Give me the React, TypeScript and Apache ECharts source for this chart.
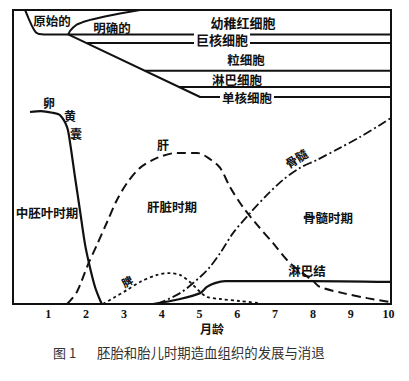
import React, { useEffect, useRef } from 'react';
import * as echarts from 'echarts';

// x: months (0..10), y: relative level (0..100)
const monthLabels = ['1', '2', '3', '4', '5', '6', '7', '8', '9', '10'];

const yolkX = [0.45, 0.74, 1.06, 1.24, 1.43, 1.51, 1.64, 1.77, 1.9, 2.01, 2.17, 2.3, 2.35];
const yolkY = [65.3, 65.6, 65.0, 64.3, 60.2, 54.8, 43.2, 32.0, 20.7, 13.9, 5.8, 1.4, 0];

const liverX = [1.43, 1.69, 1.98, 2.22, 2.49, 2.75, 3.02, 3.36, 3.81, 4.34, 4.87, 5.21, 5.48, 5.74, 6.08, 6.46, 6.88, 7.33, 7.94, 8.12, 8.73, 9.37, 9.97];
const liverY = [0, 4.1, 13.3, 20.1, 27.9, 35.4, 41.2, 46.3, 49.7, 51.4, 51.4, 49.3, 46.3, 39.8, 33.0, 26.9, 20.7, 13.9, 7.8, 5.8, 3.7, 2.0, 0.7];

const spleenX = [2.38, 2.65, 3.02, 3.36, 3.81, 4.15, 4.42, 4.68, 4.95, 5.13, 5.48, 6.01, 6.53];
const spleenY = [0, 2.0, 4.8, 7.5, 9.9, 10.5, 9.9, 7.5, 4.1, 2.4, 1.7, 1.0, 0.3];

const lymphX = [3.7, 4.42, 4.95, 5.13, 5.34, 5.61, 7.86, 10];
const lymphY = [0, 1.7, 3.7, 5.8, 7.1, 7.8, 7.8, 7.5];

const marrowX = [3.81, 4.42, 4.95, 5.21, 5.48, 5.82, 6.27, 6.72, 7.14, 7.59, 8.04, 8.65, 9.18, 9.71, 10];
const marrowY = [0, 3.7, 9.2, 12.6, 17.3, 24.1, 30.9, 37.1, 42.2, 46.3, 49.0, 53.1, 56.8, 60.9, 63.3];

// lineage diagram (top)
const primX = [0.32, 0.42, 0.5, 0.56, 0.61, 0.69, 0.82, 10];
const primY = [100, 96.9, 94.6, 93.2, 92.3, 91.8, 91.7, 91.7];
const defX = [1.46, 1.51, 1.59, 1.69, 1.85, 2.09, 2.43, 2.83, 3.36];
const defY = [91.7, 92.9, 94.05, 95.07, 95.9, 96.8, 97.8, 98.8, 100];
const diagX = [1.46, 4.95, 10];
const diagY = [91.7, 70.4, 70.4];
const megaLowX = [1.96, 10];
const megaLowY = [88.8, 88.8];
const lymphoTopX = [3.49, 10];
const lymphoTopY = [79.3, 79.3];
const lymphoLowX = [4.39, 10];
const lymphoLowY = [73.8, 73.8];

const pts = (xs: number[], ys: number[]) => xs.map((x, i) => [x, ys[i]]);

export default function App() {
  const ref = useRef<HTMLDivElement>(null);
  useEffect(() => {
    document.body.style.margin = '0';
    const chart = echarts.init(ref.current!, null, { renderer: 'svg' });
    const cjk = '"Noto Sans CJK SC", sans-serif';
    const txt = (text: string, x: number, y: number, o: any = {}) => {
      const size = o.size || 12;
      return {
        type: 'text',
        x,
        y,
        rotation: o.rot || 0,
        z: 100,
        style: {
          text,
          fill: o.fill || '#111',
          fontSize: size,
          lineHeight: size,
          fontWeight: o.weight || 'bold',
          fontFamily: cjk,
          align: o.align || 'center',
          verticalAlign: 'middle',
          textAlign: o.align || 'center',
          textVerticalAlign: 'middle',
          backgroundColor: o.bg,
          padding: o.bg ? [0, 2, 0, 2] : 0,
        },
      };
    };
    const line = (data: number[][], type: any, width = 2, smooth: any = 0.3) => ({
      type: 'line',
      data,
      symbol: 'none',
      showSymbol: false,
      smooth,
      silent: true,
      lineStyle: { color: '#111', width, type },
      z: 3,
    });
    chart.setOption({
      animation: false,
      backgroundColor: '#fff',
      grid: {
        left: 13,
        top: 10,
        right: 18,
        bottom: 77,
        show: true,
        borderColor: '#111',
        borderWidth: 2,
        containLabel: false,
        outerBoundsMode: 'none',
      },
      xAxis: {
        type: 'value',
        min: 0,
        max: 10,
        interval: 1,
        axisLine: { show: false },
        axisTick: { show: false },
        splitLine: { show: false },
        axisLabel: {
          margin: 4,
          padding: [0, 5, 0, 0],
          color: '#111',
          fontFamily: '"Liberation Serif", serif',
          fontWeight: 'bold',
          fontSize: 12,
          formatter: (v: number) => (v >= 1 ? monthLabels[Math.round(v) - 1] : ''),
        },
      },
      yAxis: { type: 'value', min: 0, max: 100, show: false },
      series: [
        line(pts(yolkX, yolkY), 'solid', 2.2),
        line(pts(liverX, liverY), [9, 5], 2),
        line(pts(spleenX, spleenY), [3, 3], 1.8),
        line(pts(lymphX, lymphY), 'solid', 2.2),
        line(pts(marrowX, marrowY), [9, 3, 2, 3], 1.8),
        line(pts(primX, primY), 'solid', 2, false),
        line(pts(defX, defY), 'solid', 2, false),
        line(pts(diagX, diagY), 'solid', 2, false),
        line(pts(megaLowX, megaLowY), 'solid', 2, false),
        line(pts(lymphoTopX, lymphoTopY), 'solid', 2, false),
        line(pts(lymphoLowX, lymphoLowY), 'solid', 2, false),
      ],
      graphic: [
        txt('原始的', 52, 20, { size: 12.5 }),
        txt('明确的', 112, 27, { size: 12.5 }),
        txt('幼稚红细胞', 243, 22, { size: 13 }),
        txt('巨核细胞', 222, 39, { size: 13, bg: '#fff' }),
        txt('粒细胞', 246, 59, { size: 12.5 }),
        txt('淋巴细胞', 237, 79, { size: 12.5 }),
        txt('单核细胞', 247, 97, { size: 12.5, bg: '#fff' }),
        txt('卵', 49, 102, { size: 12 }),
        txt('黄', 70, 115, { size: 12 }),
        txt('囊', 76, 133, { size: 12 }),
        txt('肝', 163, 144, { size: 12 }),
        txt('中胚叶时期', 47, 212, { size: 12.5 }),
        txt('肝脏时期', 172, 206, { size: 12.5 }),
        txt('脾', 127, 281, { size: 11, rot: 0.5 }),
        txt('骨髓', 296, 158, { size: 12, rot: 0.55 }),
        txt('骨髓时期', 328, 217, { size: 12.5 }),
        txt('淋巴结', 307, 270, { size: 12.5 }),
        txt('月龄', 212, 328, { size: 12 }),
        txt('图 1', 53, 352, { size: 13, weight: 'normal', fill: '#333', align: 'left' }),
        txt('胚胎和胎儿时期造血组织的发展与消退', 97, 352, { size: 13.4, weight: 'normal', fill: '#333', align: 'left' }),
      ],
    });
    return () => chart.dispose();
  }, []);
  return <div ref={ref} style={{ width: 409, height: 381 }} />;
}
